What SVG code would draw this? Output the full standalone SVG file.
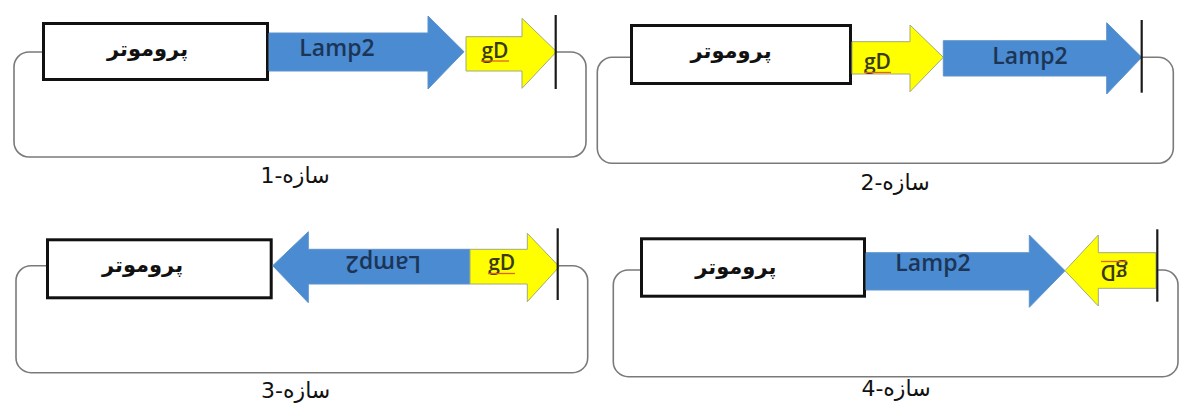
<svg xmlns="http://www.w3.org/2000/svg" width="1179" height="403" viewBox="0 0 1179 403">
<style>
.bg{fill:#ffffff}
.loop{fill:none;stroke:#7a7a7a;stroke-width:1.6}
.stop{stroke:#1a1a1a;stroke-width:2.2}
.prom{fill:#ffffff;stroke:#111111;stroke-width:3}
.lamp{fill:#4a8bd1;stroke:#5d93cc;stroke-width:1}
.gd{fill:#ffff00;stroke:#a3aa7a;stroke-width:1}
.fa{font-family:"DejaVu Sans",sans-serif;fill:#111111;text-anchor:middle}
.pt{font-size:21px;font-weight:bold}
.lb{font-size:22px}
.lt{font-family:"Open Sans","Noto Sans",sans-serif;font-size:23px;font-weight:600;fill:#1c3557;text-anchor:middle}
.gt{font-family:"Open Sans","Noto Sans",sans-serif;font-size:21px;font-weight:600;fill:#3b3a14;text-anchor:middle}
.sq{stroke:#e0622a;stroke-width:1.3}
</style>
<rect class="bg" x="0" y="0" width="1179" height="403"/>

<g id="connectors">
  <path id="loop1" class="loop" d="M42 52 H29 A15 15 0 0 0 14 67 V142 A15 15 0 0 0 29 157 H571 A15 15 0 0 0 586 142 V67 A15 15 0 0 0 571 52 H556"/>
  <path id="loop2" class="loop" d="M630 57.3 H612 A15 15 0 0 0 597.3 72 V148 A15 15 0 0 0 612 163.3 H1158 A15 15 0 0 0 1173.3 148 V72 A15 15 0 0 0 1158 57.3 H1142"/>
  <path id="loop3" class="loop" d="M46 265.7 H31 A15 15 0 0 0 16 280.7 V357.7 A15 15 0 0 0 31 372.7 H572.7 A15 15 0 0 0 587.7 357.7 V280.7 A15 15 0 0 0 572.7 265.7 H558"/>
  <path id="loop4" class="loop" d="M640 270 H628.3 A15 15 0 0 0 613.3 285 V361.7 A15 15 0 0 0 628.3 376.7 H1163 A15 15 0 0 0 1178 361.7 V285 A15 15 0 0 0 1163 270 H1157.3"/>
</g>

<!-- Construct 1 -->
<g id="construct1">
  <g id="c1-promoter">
    <rect class="prom" x="43.5" y="23.5" width="224" height="56"/>
    <text class="fa pt" x="147.5" y="56">پروموتر</text>
  </g>
  <g id="c1-lamp2">
    <polygon class="lamp" points="269,33 428,33 428,16 464,51.7 428,89 428,71 269,71"/>
    <text class="lt" x="337" y="56">Lamp2</text>
  </g>
  <g id="c1-gd">
    <polygon class="gd" points="466,36.7 522,36.7 522,18.3 556.5,51.7 522,88.3 522,71 466,71"/>
    <text class="gt" x="495" y="57.5">gD</text>
    <line class="sq" x1="481" y1="61" x2="509" y2="61"/>
  </g>
  <line id="c1-term" class="stop" x1="555.7" y1="15" x2="555.7" y2="89"/>
  <text id="c1-label" class="fa lb" x="295" y="182.5">سازه-1</text>
</g>

<!-- Construct 2 -->
<g id="construct2">
  <g id="c2-promoter">
    <rect class="prom" x="631.5" y="25.5" width="219" height="58"/>
    <text class="fa pt" x="731" y="58">پروموتر</text>
  </g>
  <g id="c2-gd">
    <polygon class="gd" points="852,41.7 910,41.7 910,25 943.3,57.3 910,91.7 910,74 852,74"/>
    <text class="gt" x="877.5" y="69">gD</text>
    <line class="sq" x1="864" y1="72.5" x2="891" y2="72.5"/>
  </g>
  <g id="c2-lamp2">
    <polygon class="lamp" points="943.3,40.7 1106.7,40.7 1106.7,22.7 1141.7,57.3 1106.7,94 1106.7,76 943.3,76"/>
    <text class="lt" x="1030" y="64">Lamp2</text>
  </g>
  <line id="c2-term" class="stop" x1="1141.7" y1="20" x2="1141.7" y2="92.7"/>
  <text id="c2-label" class="fa lb" x="895" y="190">سازه-2</text>
</g>

<!-- Construct 3 -->
<g id="construct3">
  <g id="c3-promoter">
    <rect class="prom" x="47.5" y="239.8" width="223.7" height="58"/>
    <text class="fa pt" x="142.5" y="272">پروموتر</text>
  </g>
  <g id="c3-lamp2">
    <polygon class="lamp" points="272.7,265.7 308.3,231.7 308.3,249.3 470,249.3 470,284 308.3,284 308.3,302.7"/>
    <text class="lt" transform="translate(383.3,256) rotate(180)" x="0" y="0">Lamp2</text>
  </g>
  <g id="c3-gd">
    <polygon class="gd" points="470,249.3 527.3,249.3 527.3,233.3 559.3,266.7 527.3,301.7 527.3,284 470,284"/>
    <text class="gt" x="501.7" y="270">gD</text>
    <line class="sq" x1="488" y1="273.5" x2="515" y2="273.5"/>
  </g>
  <line id="c3-term" class="stop" x1="557.7" y1="228.3" x2="557.7" y2="300"/>
  <text id="c3-label" class="fa lb" x="295.7" y="398">سازه-3</text>
</g>

<!-- Construct 4 -->
<g id="construct4">
  <g id="c4-promoter">
    <rect class="prom" x="641.5" y="238.8" width="223" height="57.4"/>
    <text class="fa pt" x="735.8" y="274">پروموتر</text>
  </g>
  <g id="c4-lamp2">
    <polygon class="lamp" points="866,252.7 1029.3,252.7 1029.3,235 1065,270.7 1029.3,307.3 1029.3,290 866,290"/>
    <text class="lt" x="933" y="270.7">Lamp2</text>
  </g>
  <g id="c4-gd">
    <polygon class="gd" points="1065,270.7 1098.3,235 1098.3,252.7 1156,252.7 1156,288.3 1098.3,288.3 1098.3,306"/>
    <g transform="translate(1114,265) rotate(180)">
      <text class="gt" x="0" y="0">gD</text>
      <line class="sq" x1="-13" y1="3.5" x2="13" y2="3.5"/>
    </g>
  </g>
  <line id="c4-term" class="stop" x1="1157.3" y1="229.3" x2="1157.3" y2="301.7"/>
  <text id="c4-label" class="fa lb" x="896" y="396">سازه-4</text>
</g>
</svg>
